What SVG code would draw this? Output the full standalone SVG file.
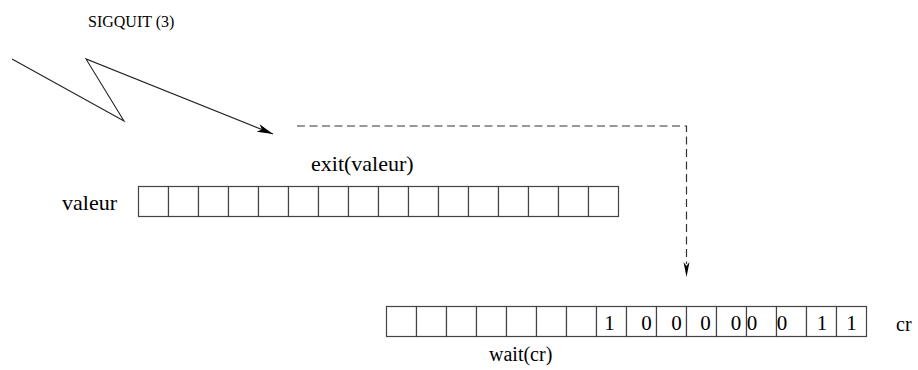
<svg xmlns="http://www.w3.org/2000/svg" width="918" height="370" viewBox="0 0 918 370">
  <style>
    .lbl { font-family: "Liberation Serif", "Times New Roman", serif; fill: #000; }
    .cell { fill: #fff; stroke: #444; stroke-width: 1.2; }
    .wire { fill: none; stroke: #222; stroke-width: 1.1; }
    .dash { fill: none; stroke: #333; stroke-width: 1.2; stroke-dasharray: 8 4.5; }
    .head { fill: #000; stroke: none; }
  </style>
  <defs>
    <marker id="arrow" markerUnits="userSpaceOnUse" markerWidth="20" markerHeight="12" viewBox="-17 -6 18 12" refX="0" refY="0" orient="auto" overflow="visible">
      <path class="head" d="M0,0 L-16,-4 L-12,0 L-16,4 Z"/>
    </marker>
    <rect id="c" class="cell" width="30" height="30"/>
  </defs>

  <!-- signal label -->
  <g id="signal">
    <text class="lbl" x="88" y="27" font-size="16">SIGQUIT (3)</text>
  </g>

  <!-- exit register -->
  <g id="exit-register">
    <text class="lbl" x="311" y="171" font-size="22">exit(valeur)</text>
    <text class="lbl" x="62" y="210" font-size="22">valeur</text>
    <g transform="translate(138.5,186.5)">
      <use href="#c" x="0"/><use href="#c" x="30"/><use href="#c" x="60"/><use href="#c" x="90"/>
      <use href="#c" x="120"/><use href="#c" x="150"/><use href="#c" x="180"/><use href="#c" x="210"/>
      <use href="#c" x="240"/><use href="#c" x="270"/><use href="#c" x="300"/><use href="#c" x="330"/>
      <use href="#c" x="360"/><use href="#c" x="390"/><use href="#c" x="420"/><use href="#c" x="450"/>
    </g>
  </g>

  <!-- wait register -->
  <g id="wait-register">
    <g transform="translate(386.5,306.5)">
      <use href="#c" x="0"/><use href="#c" x="30"/><use href="#c" x="60"/><use href="#c" x="90"/>
      <use href="#c" x="120"/><use href="#c" x="150"/><use href="#c" x="180"/><use href="#c" x="210"/>
      <use href="#c" x="240"/><use href="#c" x="270"/><use href="#c" x="300"/><use href="#c" x="330"/>
      <use href="#c" x="360"/><use href="#c" x="390"/><use href="#c" x="420"/><use href="#c" x="450"/>
    </g>
    <g class="lbl" font-size="21" text-anchor="middle">
      <text x="609.5" y="330">1</text>
      <text x="646.5" y="330">0</text>
      <text x="676.5" y="330">0</text>
      <text x="705.5" y="330">0</text>
      <text x="736" y="330">0</text>
      <text x="752" y="330">0</text>
      <text x="782" y="330">0</text>
      <text x="822" y="330">1</text>
      <text x="851.5" y="330">1</text>
    </g>
    <text class="lbl" x="896" y="331" font-size="20">cr</text>
    <text class="lbl" x="489" y="361" font-size="20">wait(cr)</text>
  </g>

  <!-- connectors -->
  <g id="connectors">
    <polyline class="wire" points="12,59 124,121 86,59 273,134" marker-end="url(#arrow)"/>
    <path class="dash" d="M297,126 H686.5 V264"/>
    <path class="head" d="M686.5,277 L683.5,262 L686.5,266 L689.5,262 Z"/>
  </g>
</svg>
